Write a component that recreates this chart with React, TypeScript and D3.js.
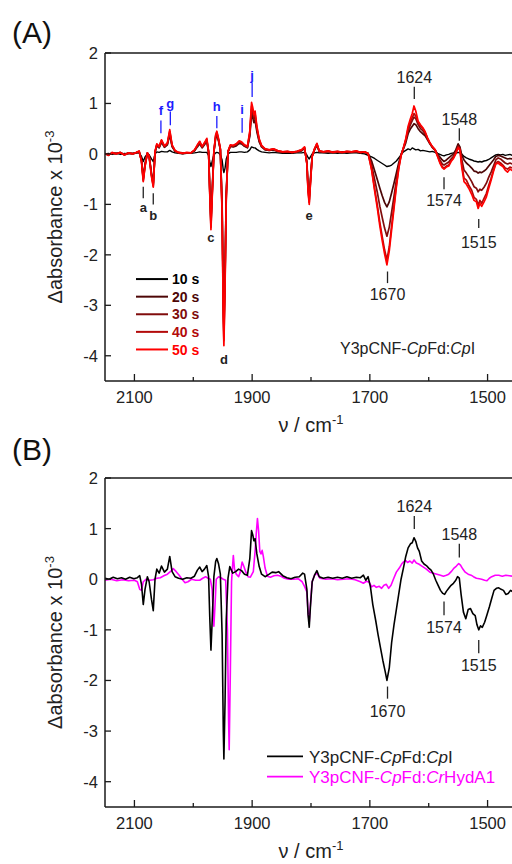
import React from "react";
import * as d3 from "d3";

// ---- panel A: shared wavenumber grid (cm-1) and the five time traces (x 10^-3)
const waveA = [
  2150, 2144, 2138, 2131, 2124, 2117, 2110, 2103, 2097, 2092,
  2088, 2085, 2082, 2078, 2075, 2071, 2068, 2065, 2062, 2058,
  2054, 2049, 2044, 2040, 2036, 2031, 2025, 2018, 2011, 2004,
  1998, 1993, 1989, 1985, 1981, 1977, 1974, 1972, 1970, 1968,
  1965, 1962, 1960, 1957, 1954, 1951, 1949, 1948, 1946, 1944,
  1941, 1937, 1932, 1927, 1922, 1918, 1913, 1908, 1904, 1901,
  1899, 1897, 1895, 1892, 1888, 1884, 1878, 1871, 1864, 1856,
  1848, 1840, 1832, 1824, 1816, 1811, 1807, 1805, 1803, 1801,
  1798, 1794, 1790, 1786, 1779, 1771, 1763, 1755, 1747, 1739,
  1731, 1723, 1716, 1709, 1703, 1697, 1692, 1687, 1683, 1679,
  1675, 1671, 1667, 1663, 1659, 1655, 1651, 1647, 1643, 1639,
  1635, 1631, 1628, 1625, 1622, 1618, 1614, 1610, 1606, 1602,
  1598, 1594, 1589, 1585, 1581, 1577, 1574, 1570, 1566, 1562,
  1558, 1554, 1550, 1547, 1544, 1540, 1536, 1532, 1527, 1523,
  1519, 1516, 1513, 1510, 1506, 1502, 1498, 1494, 1490, 1486,
  1482, 1478, 1474, 1470, 1466, 1462, 1458, 1454, 1450,
];

const trace10s = [
  0.00, 0.01, -0.01, 0.01, -0.01, 0.01, 0.00, 0.01, 0.02, 0.02,
  -0.05, -0.15, -0.06, 0.0, -0.02, -0.1, -0.15, 0.0, 0.04, 0.03,
  0.05, 0.04, 0.04, 0.07, 0.04, 0.02, 0.01, 0.0, 0.01, 0.01,
  0.02, 0.03, 0.04, 0.03, 0.03, 0.03, -0.03, -0.15, -0.25, -0.15,
  -0.02, 0.02, 0.03, 0.02, -0.02, -0.12, -0.32, -0.37, -0.28, -0.1,
  0.0, 0.03, 0.03, 0.03, 0.04, 0.04, 0.03, 0.04, 0.08, 0.14,
  0.13, 0.12, 0.12, 0.09, 0.06, 0.04, 0.03, 0.02, 0.03, 0.02,
  0.01, 0.01, 0.01, 0.02, 0.02, 0.03, -0.02, -0.07, -0.1, -0.06,
  0.0, 0.02, 0.03, 0.02, 0.02, 0.01, 0.02, 0.01, 0.02, 0.01,
  0.02, 0.02, 0.01, 0.0, -0.03, -0.06, -0.09, -0.13, -0.16, -0.19,
  -0.22, -0.25, -0.24, -0.22, -0.18, -0.14, -0.08, -0.02, 0.04, 0.07,
  0.1, 0.08, 0.12, 0.1, 0.08, 0.09, 0.06, 0.07, 0.06, 0.05,
  0.04, 0.05, 0.03, 0.01, -0.01, -0.03, -0.04, -0.02, -0.01, 0.01,
  0.02, 0.01, 0.03, 0.02, 0.0, -0.05, -0.08, -0.1, -0.12, -0.14,
  -0.15, -0.16, -0.15, -0.16, -0.14, -0.13, -0.11, -0.08, -0.05, -0.02,
  -0.01, -0.02, -0.01, -0.03, -0.02, -0.01, -0.03, -0.02, -0.02,
];

const trace20s = [
  0.00, -0.01, 0.01, 0.01, 0.02, -0.01, 0.02, 0.00, 0.02, 0.04,
  -0.12, -0.48, -0.2, 0.01, -0.04, -0.38, -0.58, 0.03, 0.16, 0.12,
  0.23, 0.13, 0.18, 0.38, 0.14, 0.05, 0.02, 0.01, 0.02, 0.02,
  0.06, 0.14, 0.2, 0.12, 0.18, 0.25, 0.03, -0.68, -1.3, -0.77,
  0.04, 0.31, 0.37, 0.25, 0.08, -1.0, -2.9, -3.4, -2.3, -0.78,
  0.04, 0.15, 0.14, 0.16, 0.21, 0.2, 0.15, 0.12, 0.35, 0.8,
  0.72, 0.62, 0.67, 0.44, 0.24, 0.14, 0.08, 0.07, 0.08, 0.05,
  0.03, 0.04, 0.03, 0.04, 0.06, 0.11, -0.16, -0.63, -0.85, -0.51,
  -0.04, 0.08, 0.17, 0.05, 0.03, 0.05, 0.03, 0.04, 0.03, 0.04,
  0.03, 0.04, 0.03, 0.03, 0.01, -0.14, -0.33, -0.52, -0.68, -0.83,
  -0.96, -1.05, -0.95, -0.77, -0.58, -0.38, -0.18, -0.01, 0.1, 0.22,
  0.4, 0.5, 0.55, 0.6, 0.58, 0.5, 0.44, 0.4, 0.36, 0.28,
  0.2, 0.13, 0.07, 0.0, -0.06, -0.12, -0.15, -0.12, -0.08, -0.04,
  0.0, 0.08, 0.2, 0.14, -0.02, -0.12, -0.18, -0.22, -0.28, -0.34,
  -0.35, -0.38, -0.36, -0.37, -0.34, -0.3, -0.24, -0.18, -0.12, -0.05,
  -0.03, -0.04, -0.06, -0.08, -0.1, -0.09, -0.1, -0.08, -0.09,
];

const trace30s = [
  0.01, -0.02, 0.02, 0.00, 0.03, -0.02, 0.01, 0.01, 0.02, 0.05,
  -0.13, -0.5, -0.22, 0.02, -0.04, -0.41, -0.61, 0.04, 0.18, 0.14,
  0.25, 0.14, 0.2, 0.42, 0.16, 0.06, 0.02, 0.01, 0.02, 0.02,
  0.07, 0.16, 0.22, 0.13, 0.2, 0.27, 0.04, -0.73, -1.38, -0.82,
  0.04, 0.34, 0.4, 0.27, 0.09, -1.1, -3.05, -3.55, -2.4, -0.82,
  0.04, 0.16, 0.15, 0.18, 0.23, 0.22, 0.16, 0.13, 0.39, 0.88,
  0.8, 0.69, 0.74, 0.49, 0.26, 0.15, 0.09, 0.07, 0.09, 0.05,
  0.04, 0.04, 0.03, 0.04, 0.07, 0.12, -0.18, -0.68, -0.91, -0.55,
  -0.04, 0.09, 0.19, 0.05, 0.04, 0.05, 0.03, 0.04, 0.04, 0.04,
  0.04, 0.05, 0.03, 0.04, 0.01, -0.22, -0.5, -0.78, -1.04, -1.26,
  -1.47, -1.63, -1.45, -1.15, -0.84, -0.52, -0.24, -0.02, 0.11, 0.26,
  0.46, 0.58, 0.66, 0.73, 0.7, 0.58, 0.5, 0.46, 0.4, 0.3,
  0.21, 0.14, 0.08, -0.02, -0.12, -0.2, -0.22, -0.19, -0.16, -0.1,
  -0.05, 0.05, 0.16, 0.12, -0.1, -0.32, -0.38, -0.45, -0.55, -0.65,
  -0.68, -0.75, -0.7, -0.72, -0.66, -0.58, -0.46, -0.36, -0.24, -0.12,
  -0.08, -0.1, -0.14, -0.18, -0.2, -0.18, -0.2, -0.17, -0.18,
];

const trace40s = [
  0.00, -0.02, 0.02, 0.01, 0.02, -0.01, 0.02, 0.00, 0.03, 0.05,
  -0.14, -0.53, -0.24, 0.02, -0.05, -0.43, -0.64, 0.04, 0.19, 0.14,
  0.27, 0.15, 0.21, 0.45, 0.17, 0.06, 0.03, 0.02, 0.02, 0.02,
  0.07, 0.17, 0.24, 0.14, 0.21, 0.29, 0.04, -0.77, -1.45, -0.86,
  0.05, 0.36, 0.43, 0.28, 0.1, -1.15, -3.2, -3.7, -2.5, -0.86,
  0.05, 0.17, 0.16, 0.19, 0.25, 0.23, 0.17, 0.14, 0.42, 0.95,
  0.86, 0.74, 0.8, 0.52, 0.28, 0.16, 0.1, 0.08, 0.1, 0.06,
  0.04, 0.05, 0.03, 0.05, 0.08, 0.13, -0.19, -0.72, -0.96, -0.58,
  -0.05, 0.1, 0.2, 0.06, 0.04, 0.05, 0.04, 0.05, 0.03, 0.05,
  0.04, 0.05, 0.03, 0.04, 0.01, -0.3, -0.68, -1.04, -1.36, -1.64,
  -1.9, -2.1, -1.84, -1.42, -1.02, -0.62, -0.28, -0.03, 0.12, 0.28,
  0.5, 0.64, 0.72, 0.8, 0.75, 0.62, 0.55, 0.5, 0.42, 0.31,
  0.22, 0.14, 0.07, -0.04, -0.16, -0.25, -0.28, -0.24, -0.22, -0.13,
  -0.08, 0.02, 0.14, 0.1, -0.2, -0.48, -0.52, -0.62, -0.72, -0.86,
  -0.9, -1.02, -0.92, -0.98, -0.88, -0.78, -0.62, -0.48, -0.32, -0.18,
  -0.15, -0.18, -0.22, -0.28, -0.3, -0.26, -0.28, -0.24, -0.26,
];

const trace50s = [
  0.01, -0.03, 0.03, 0.00, 0.03, -0.02, 0.02, 0.00, 0.03, 0.06,
  -0.15, -0.55, -0.25, 0.02, -0.05, -0.45, -0.66, 0.05, 0.2, 0.15,
  0.28, 0.16, 0.22, 0.48, 0.18, 0.07, 0.03, 0.01, 0.03, 0.02,
  0.08, 0.18, 0.25, 0.15, 0.22, 0.31, 0.05, -0.8, -1.5, -0.9,
  0.05, 0.38, 0.45, 0.3, 0.1, -1.2, -3.3, -3.8, -2.6, -0.9,
  0.05, 0.18, 0.17, 0.2, 0.26, 0.24, 0.18, 0.15, 0.45, 1.02,
  0.92, 0.78, 0.85, 0.55, 0.3, 0.17, 0.1, 0.08, 0.1, 0.06,
  0.04, 0.05, 0.03, 0.05, 0.08, 0.14, -0.2, -0.75, -1.0, -0.6,
  -0.05, 0.1, 0.21, 0.06, 0.04, 0.06, 0.03, 0.05, 0.03, 0.05,
  0.04, 0.06, 0.03, 0.04, 0.01, -0.32, -0.72, -1.1, -1.43, -1.72,
  -1.98, -2.2, -1.92, -1.5, -1.08, -0.66, -0.3, -0.04, 0.12, 0.3,
  0.55, 0.7, 0.8, 0.95, 0.85, 0.65, 0.58, 0.52, 0.44, 0.32,
  0.22, 0.15, 0.08, -0.05, -0.18, -0.27, -0.3, -0.26, -0.24, -0.15,
  -0.09, 0.0, 0.12, 0.08, -0.25, -0.55, -0.6, -0.68, -0.8, -0.92,
  -0.95, -1.08, -0.98, -1.04, -0.95, -0.85, -0.68, -0.52, -0.35, -0.2,
  -0.18, -0.22, -0.25, -0.32, -0.36, -0.3, -0.33, -0.28, -0.3,
];

const timeLabels = ["10 s", "20 s", "30 s", "40 s", "50 s"];
const timeColors = ["#000000", "#4d0606", "#800c0c", "#b30a0a", "#ff0000"];
const timeTraces = [trace10s, trace20s, trace30s, trace40s, trace50s];

// ---- panel B: [wavenumber, value]
const cpIPoints: [number, number][] = [
  [2150, 0.02], [2143, 0.0], [2136, 0.04], [2129, 0.01], [2122, 0.03], [2115, 0.0],
  [2108, 0.04], [2101, 0.01], [2095, 0.03], [2091, 0.07], [2088, -0.1], [2085, -0.5],
  [2082, -0.2], [2078, 0.05], [2075, -0.05], [2071, -0.4], [2068, -0.62], [2065, 0.0],
  [2062, 0.2], [2058, 0.12], [2054, 0.26], [2049, 0.14], [2044, 0.2], [2040, 0.45],
  [2036, 0.15], [2031, 0.05], [2025, 0.02], [2018, 0.0], [2011, 0.03], [2004, 0.02],
  [1998, 0.06], [1993, 0.18], [1989, 0.24], [1985, 0.15], [1981, 0.2], [1977, 0.27],
  [1974, 0.05], [1972, -0.75], [1970, -1.4], [1968, -0.85], [1965, 0.05], [1962, 0.35],
  [1960, 0.41], [1957, 0.3], [1954, 0.1], [1951, -1.1], [1949, -3.0], [1948, -3.55],
  [1946, -2.4], [1944, -0.8], [1941, 0.02], [1938, 0.25], [1933, 0.12], [1928, 0.15],
  [1923, 0.2], [1918, 0.17], [1913, 0.1], [1908, 0.08], [1904, 0.4], [1901, 0.96],
  [1899, 0.88], [1897, 0.76], [1895, 0.8], [1892, 0.5], [1888, 0.25], [1884, 0.1],
  [1878, 0.05], [1871, 0.1], [1866, 0.14], [1860, 0.13], [1855, 0.15], [1848, 0.07],
  [1841, 0.03], [1834, 0.01], [1827, 0.04], [1820, 0.05], [1814, 0.12], [1811, 0.1],
  [1807, -0.2], [1805, -0.7], [1803, -0.95], [1801, -0.55], [1798, -0.05], [1794, 0.08],
  [1790, 0.17], [1786, 0.05], [1779, 0.02], [1771, 0.04], [1763, 0.02], [1755, 0.04],
  [1747, 0.02], [1739, 0.05], [1731, 0.02], [1723, 0.04], [1716, 0.03], [1711, 0.08],
  [1707, -0.02], [1703, 0.05], [1699, -0.15], [1695, -0.5], [1690, -0.82], [1686, -1.1],
  [1682, -1.35], [1678, -1.6], [1674, -1.82], [1671, -2.0], [1667, -1.75], [1663, -1.25],
  [1659, -0.9], [1655, -0.6], [1651, -0.3], [1647, 0.0], [1643, 0.22], [1639, 0.45],
  [1635, 0.62], [1631, 0.7], [1628, 0.72], [1625, 0.82], [1622, 0.75], [1619, 0.62],
  [1616, 0.55], [1612, 0.36], [1608, 0.3], [1604, 0.27], [1600, 0.22], [1596, 0.18],
  [1592, 0.1], [1588, -0.02], [1584, -0.12], [1580, -0.22], [1576, -0.28], [1573, -0.3],
  [1570, -0.24], [1566, -0.18], [1562, -0.12], [1558, -0.08], [1554, -0.02], [1551, 0.05],
  [1548, 0.02], [1545, -0.3], [1541, -0.65], [1537, -0.78], [1533, -0.6], [1529, -0.58],
  [1525, -0.68], [1521, -0.72], [1518, -0.9], [1515, -1.0], [1512, -0.92], [1509, -0.95],
  [1505, -0.85], [1501, -0.7], [1497, -0.55], [1493, -0.38], [1489, -0.22], [1485, -0.18],
  [1481, -0.17], [1477, -0.2], [1473, -0.22], [1469, -0.3], [1465, -0.28], [1461, -0.22],
  [1457, -0.25], [1453, -0.2], [1450, -0.22],
];

const hydA1Points: [number, number][] = [
  [2150, -0.02], [2140, 0.0], [2130, -0.03], [2120, -0.01], [2110, -0.03], [2100, -0.02],
  [2095, -0.05], [2091, -0.2], [2088, -0.22], [2085, -0.05], [2080, 0.0], [2074, -0.02],
  [2068, -0.01], [2062, 0.02], [2056, 0.03], [2050, 0.07], [2044, 0.1], [2038, 0.16],
  [2034, 0.21], [2029, 0.15], [2024, 0.08], [2019, 0.0], [2014, -0.07], [2009, -0.05],
  [2003, 0.0], [1996, -0.02], [1989, -0.02], [1984, 0.02], [1979, 0.05], [1975, 0.02],
  [1971, 0.0], [1968, -0.2], [1966, -0.7], [1965, -0.93], [1963, -0.5], [1961, 0.0],
  [1957, 0.05], [1953, 0.03], [1949, 0.0], [1945, -0.02], [1942, -1.0], [1940, -2.8],
  [1939, -3.37], [1937, -1.8], [1935, -0.05], [1933, 0.3], [1932, 0.47], [1930, 0.2],
  [1927, 0.1], [1923, 0.05], [1920, 0.15], [1917, 0.34], [1914, 0.25], [1911, 0.15],
  [1907, 0.05], [1903, 0.04], [1898, 0.15], [1895, 0.55], [1893, 0.9], [1891, 1.2],
  [1889, 0.95], [1887, 0.55], [1885, 0.5], [1883, 0.57], [1881, 0.45], [1878, 0.22],
  [1874, 0.06], [1869, 0.04], [1863, 0.07], [1857, 0.08], [1851, 0.06], [1845, 0.02],
  [1838, 0.0], [1830, 0.0], [1822, 0.01], [1815, -0.05], [1811, -0.14], [1807, -0.25],
  [1805, -0.65], [1803, -0.85], [1801, -0.5], [1798, -0.05], [1794, 0.08], [1790, 0.12],
  [1785, 0.02], [1775, 0.0], [1765, 0.01], [1755, -0.01], [1745, 0.0], [1735, 0.01],
  [1725, -0.01], [1716, -0.05], [1711, -0.08], [1706, -0.04], [1701, -0.06], [1697, -0.15],
  [1693, -0.12], [1689, -0.16], [1684, -0.14], [1680, -0.18], [1676, -0.12], [1672, -0.1],
  [1668, -0.18], [1664, -0.12], [1660, 0.0], [1655, 0.14], [1650, 0.22], [1646, 0.3],
  [1643, 0.34], [1639, 0.37], [1636, 0.33], [1632, 0.36], [1628, 0.32], [1625, 0.38],
  [1621, 0.32], [1617, 0.3], [1613, 0.27], [1609, 0.24], [1604, 0.2], [1598, 0.14],
  [1592, 0.12], [1586, 0.1], [1580, 0.08], [1575, 0.06], [1570, 0.08], [1566, 0.1],
  [1561, 0.16], [1557, 0.22], [1553, 0.26], [1549, 0.31], [1546, 0.28], [1542, 0.2],
  [1538, 0.14], [1533, 0.1], [1528, 0.08], [1524, 0.05], [1519, 0.02], [1514, 0.01],
  [1510, 0.0], [1505, -0.02], [1501, -0.03], [1497, 0.02], [1493, 0.05], [1487, 0.08],
  [1481, 0.08], [1475, 0.06], [1469, 0.08], [1463, 0.07], [1457, 0.06], [1450, 0.05],
];

// ---- axes
const yTicks = [2, 1, 0, -1, -2, -3, -4];
const xMajorTicks = [2100, 1900, 1700, 1500];
const xMinorTicks = [2000, 1800, 1600];

// ---- annotations (wavenumber, label y, tick from/to in data units)
type Note = { text: string; wn: number; y: number; tick?: [number, number]; color?: string };
const bandLettersA: Note[] = [
  { text: "a", wn: 2085, y: -1.15, tick: [-0.65, -0.88] },
  { text: "b", wn: 2068, y: -1.3, tick: [-0.78, -1.0] },
  { text: "c", wn: 1970, y: -1.75 },
  { text: "d", wn: 1948, y: -4.17 },
  { text: "e", wn: 1803, y: -1.3 },
  { text: "f", wn: 2055, y: 0.77, tick: [0.66, 0.41], color: "#1c1cff" },
  { text: "g", wn: 2039, y: 0.91, tick: [0.84, 0.57], color: "#1c1cff" },
  { text: "h", wn: 1960, y: 0.86, tick: [0.75, 0.51], color: "#1c1cff" },
  { text: "i", wn: 1917, y: 0.79, tick: [0.71, 0.42], color: "#1c1cff" },
  { text: "j", wn: 1900, y: 1.46, tick: [1.41, 1.13], color: "#1c1cff" },
];
const peakNotesA: Note[] = [
  { text: "1624", wn: 1624.5, y: 1.41, tick: [1.33, 1.09] },
  { text: "1548", wn: 1548, y: 0.57, tick: [0.51, 0.26] },
  { text: "1574", wn: 1574, y: -1.03, tick: [-0.46, -0.7] },
  { text: "1515", wn: 1515, y: -1.86, tick: [-1.29, -1.47] },
  { text: "1670", wn: 1670, y: -2.9, tick: [-2.33, -2.56] },
];
const peakNotesB: Note[] = [
  { text: "1624", wn: 1624.5, y: 1.33, tick: [1.25, 0.99] },
  { text: "1548", wn: 1548, y: 0.77, tick: [0.7, 0.43] },
  { text: "1574", wn: 1574, y: -1.06, tick: [-0.44, -0.71] },
  { text: "1515", wn: 1515, y: -1.81, tick: [-1.2, -1.46] },
  { text: "1670", wn: 1670, y: -2.72, tick: [-2.12, -2.36] },
];

const FONT = "'Liberation Sans', Arial, Helvetica, sans-serif";
const LEFT = 105;
const RIGHT = 517;

const x = d3.scaleLinear().domain([2150, 1450]).range([LEFT, RIGHT]);

type PanelProps = {
  top: number;
  bottom: number;
  id: string;
  children: (y: d3.ScaleLinear<number, number>) => React.ReactNode;
};

const Panel = ({ top, bottom, id, children }: PanelProps) => {
  const y = d3.scaleLinear().domain([-4.5, 2]).range([bottom, top]);
  const axisColor = "#1a1a1a";
  return (
    <g>
      <clipPath id={id}>
        <rect x={LEFT} y={top} width={RIGHT - LEFT} height={bottom - top} />
      </clipPath>
      {children(y)}
      {/* frame */}
      <line x1={LEFT} x2={LEFT} y1={top} y2={bottom} stroke={axisColor} strokeWidth={1.5} />
      <line x1={LEFT} x2={RIGHT} y1={bottom} y2={bottom} stroke={axisColor} strokeWidth={1.5} />
      <line x1={LEFT} x2={RIGHT} y1={top} y2={top} stroke={axisColor} strokeWidth={1.5} />
      {yTicks.map((t) => (
        <g key={"y" + t}>
          <line x1={LEFT} x2={LEFT + 6} y1={y(t)} y2={y(t)} stroke={axisColor} strokeWidth={1.3} />
          <text x={LEFT - 7} y={y(t)} dy="0.36em" textAnchor="end" fontSize={16.5} fill="#222">
            {t < 0 ? "-" + Math.abs(t) : String(t)}
          </text>
        </g>
      ))}
      {xMajorTicks.map((t) => (
        <g key={"x" + t}>
          <line x1={x(t)} x2={x(t)} y1={bottom} y2={bottom - 7} stroke={axisColor} strokeWidth={1.3} />
          <text x={x(t)} y={bottom + 22} textAnchor="middle" fontSize={16.5} fill="#222">
            {t}
          </text>
        </g>
      ))}
      {xMinorTicks.map((t) => (
        <line key={"m" + t} x1={x(t)} x2={x(t)} y1={bottom} y2={bottom - 4} stroke={axisColor} strokeWidth={1.3} />
      ))}
      <text x={(LEFT + RIGHT) / 2} y={bottom + 51} textAnchor="middle" fontSize={20} fill="#222">
        ν / cm
        <tspan dy={-8} fontSize={13}>-1</tspan>
      </text>
      <text
        transform={`translate(${62},${(top + bottom) / 2}) rotate(-90)`}
        textAnchor="middle"
        fontSize={20}
        fill="#222"
      >
        Δabsorbance x 10
        <tspan dy={-8} fontSize={13}>-3</tspan>
      </text>
    </g>
  );
};

const Notes = ({ notes, y, size, bold }: { notes: Note[]; y: d3.ScaleLinear<number, number>; size: number; bold?: boolean }) => (
  <g>
    {notes.map((n) => (
      <g key={n.text + n.wn}>
        {n.tick && (
          <line
            x1={x(n.wn)}
            x2={x(n.wn)}
            y1={y(n.tick[0])}
            y2={y(n.tick[1])}
            stroke={n.color || "#222"}
            strokeWidth={1.3}
          />
        )}
        <text
          x={x(n.wn)}
          y={y(n.y)}
          textAnchor="middle"
          fontSize={size}
          fontWeight={bold ? "bold" : "normal"}
          fill={n.color || "#222"}
        >
          {n.text}
        </text>
      </g>
    ))}
  </g>
);

export default function App() {
  const makeLine = (y: d3.ScaleLinear<number, number>) =>
    d3
      .line<[number, number]>()
      .x((d) => x(d[0]))
      .y((d) => y(d[1]));

  return (
    <svg
      width={512}
      height={864}
      style={{ position: "absolute", left: 0, top: 0, background: "#fff" }}
      fontFamily={FONT}
    >
      <rect width={512} height={864} fill="#fff" />
      <text x={12} y={43} fontSize={30} fill="#111">(A)</text>
      <text x={12} y={460} fontSize={30} fill="#111">(B)</text>

      <Panel top={53} bottom={381} id="clipA">
        {(y) => (
          <g>
            <g clipPath="url(#clipA)">
              {timeTraces.map((tr, i) => (
                <path
                  key={timeLabels[i]}
                  d={makeLine(y)(d3.zip(waveA, tr) as [number, number][]) || ""}
                  fill="none"
                  stroke={timeColors[i]}
                  strokeWidth={i === 0 ? 1.4 : 1.7}
                  strokeLinejoin="round"
                />
              ))}
            </g>
            <Notes notes={bandLettersA} y={y} size={13} bold />
            <Notes notes={peakNotesA} y={y} size={16} />
            {timeLabels.map((lab, i) => {
              const ly = y(-2.48) + i * 17.6;
              return (
                <g key={"lg" + lab}>
                  <line x1={136} x2={168} y1={ly} y2={ly} stroke={timeColors[i]} strokeWidth={2} />
                  <text x={172} y={ly} dy="0.36em" fontSize={14} fontWeight="bold" fill={timeColors[i]}>
                    {lab}
                  </text>
                </g>
              );
            })}
            <text x={340} y={y(-3.97)} fontSize={16} fill="#222">
              Y3pCNF-<tspan fontStyle="italic">Cp</tspan>Fd:<tspan fontStyle="italic">Cp</tspan>I
            </text>
          </g>
        )}
      </Panel>

      <Panel top={478} bottom={807} id="clipB">
        {(y) => (
          <g>
            <g clipPath="url(#clipB)">
              <path d={makeLine(y)(hydA1Points) || ""} fill="none" stroke="#ff00ff" strokeWidth={1.6} strokeLinejoin="round" />
              <path d={makeLine(y)(cpIPoints) || ""} fill="none" stroke="#000" strokeWidth={1.6} strokeLinejoin="round" />
            </g>
            <Notes notes={peakNotesB} y={y} size={16} />
            <line x1={267} x2={303} y1={y(-3.5)} y2={y(-3.5)} stroke="#000" strokeWidth={1.6} />
            <text x={309} y={y(-3.5)} dy="0.36em" fontSize={17} fill="#222">
              Y3pCNF-<tspan fontStyle="italic">Cp</tspan>Fd:<tspan fontStyle="italic">Cp</tspan>I
            </text>
            <line x1={267} x2={303} y1={y(-3.9)} y2={y(-3.9)} stroke="#ff00ff" strokeWidth={1.6} />
            <text x={309} y={y(-3.9)} dy="0.36em" fontSize={17} fill="#ff00ff">
              Y3pCNF-<tspan fontStyle="italic">Cp</tspan>Fd:<tspan fontStyle="italic">Cr</tspan>HydA1
            </text>
          </g>
        )}
      </Panel>
    </svg>
  );
}
